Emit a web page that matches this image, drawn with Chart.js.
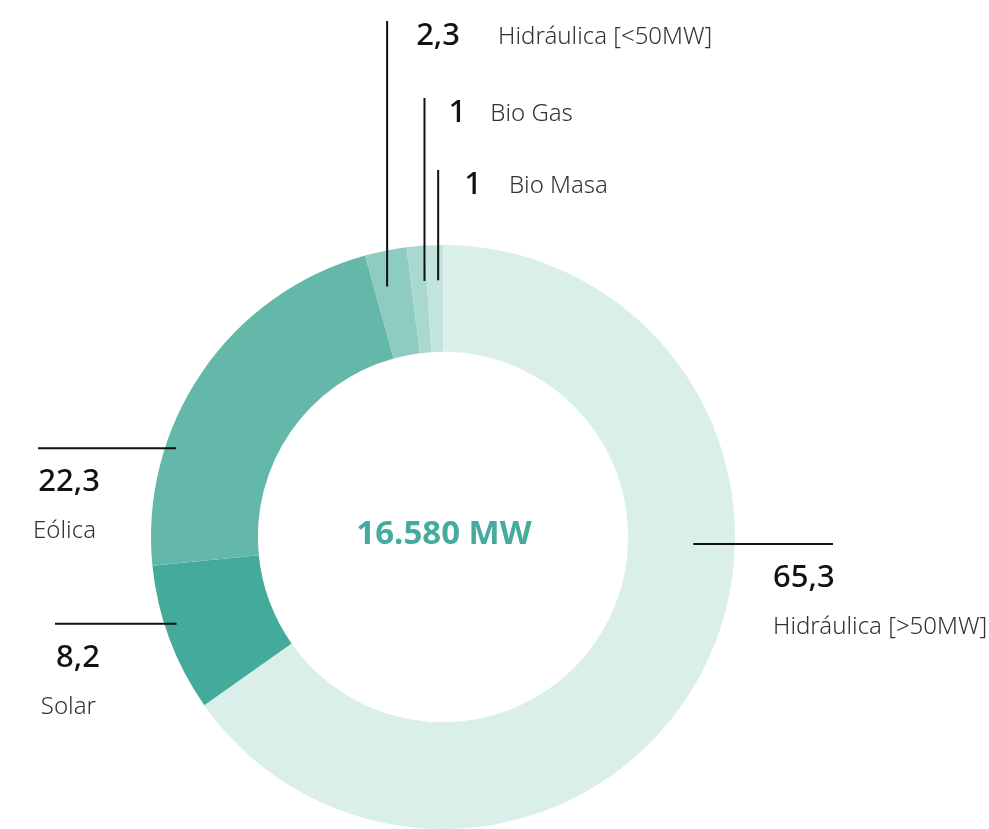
<!DOCTYPE html>
<html lang="es">
<head>
<meta charset="utf-8">
<script src="https://cdn.jsdelivr.net/npm/chart.js@4"></script>
<style>
  html, body { margin: 0; padding: 0; background: #fff; overflow: hidden; }
  #wrap { width: 989px; height: 829px; position: relative; }
</style>
</head>
<body>
<div id="wrap"><canvas id="grafico"></canvas></div>
<script>
// datos (%) - orden en sentido horario desde arriba
const categorias = ['Hidráulica [>50MW]', 'Solar', 'Eólica', 'Hidráulica [<50MW]', 'Bio Gas', 'Bio Masa'];
const valores = [65.3, 8.2, 22.3, 2.3, 1, 1];
const total = '16.580 MW';

const colores = ['#dbefea', '#44ab9c', '#63b8aa', '#8ecbc1', '#a9d8cf', '#c3e4dd'];

// donde va cada etiqueta: lado, fraccion del arco, fraccion del radio, fin de la linea
const etiquetas = [
    { lado: 'right', f: 0.39, rf: 0.61, fin: 833, textoX: 773 },
    { lado: 'left', f: 0.58, rf: 0.89, fin: 55, textoX: 100 },
    { lado: 'left', f: 0.30, rf: 0.90, fin: 38, textoX: 100 },
    { lado: 'top', f: 0.35, rf: 0.67, fin: 21, dx: 29, sep: 38 },
    { lado: 'top', f: 0.85, rf: 0.67, fin: 98, dx: 24, sep: 24 },
    { lado: 'top', f: 0.70, rf: 0.67, fin: 170, dx: 26, sep: 27 }
];

const fuente = '"Noto Sans", "Open Sans", sans-serif';

function formato(v) {
    return String(v).replace('.', ',');
}

const etiquetasPlugin = {
    id: 'etiquetas',
    afterDatasetsDraw(chart) {
        const ctx = chart.ctx;
        const meta = chart.getDatasetMeta(0);
        ctx.save();
        meta.data.forEach((arc, i) => {
            const cfg = etiquetas[i];
            const ang = arc.startAngle + cfg.f * (arc.endAngle - arc.startAngle);
            const r = arc.innerRadius + cfg.rf * (arc.outerRadius - arc.innerRadius);
            const ax = arc.x + r * Math.cos(ang);
            const ay = arc.y + r * Math.sin(ang);

            ctx.strokeStyle = '#111';
            ctx.lineWidth = 2;
            ctx.beginPath();
            ctx.moveTo(ax, ay);
            if (cfg.lado === 'top') ctx.lineTo(ax, cfg.fin);
            else ctx.lineTo(cfg.fin, ay);
            ctx.stroke();

            const valor = formato(valores[i]);
            ctx.textBaseline = 'alphabetic';
            if (cfg.lado === 'top') {
                const base = cfg.fin + 24;
                ctx.textAlign = 'left';
                ctx.fillStyle = '#111';
                ctx.font = '500 31px ' + fuente;
                const vx = ax + cfg.dx;
                ctx.fillText(valor, vx, base);
                const w = ctx.measureText(valor).width;
                ctx.fillStyle = '#333';
                ctx.font = '300 24px ' + fuente;
                ctx.fillText(categorias[i], vx + w + cfg.sep, base - 1);
            } else {
                ctx.textAlign = cfg.lado === 'left' ? 'right' : 'left';
                ctx.fillStyle = '#111';
                ctx.font = '500 31px ' + fuente;
                ctx.fillText(valor, cfg.textoX, ay + 43);
                ctx.fillStyle = '#333';
                ctx.font = '300 24px ' + fuente;
                ctx.fillText(categorias[i], cfg.textoX - (cfg.lado === 'left' ? 4 : 0), ay + 90);
            }
        });

        // texto central
        const a0 = meta.data[0];
        ctx.textAlign = 'center';
        ctx.textBaseline = 'middle';
        ctx.fillStyle = '#45ab9c';
        ctx.font = 'bold 33px ' + fuente;
        ctx.fillText(total, a0.x + 1, a0.y - 2);
        ctx.restore();
    }
};

new Chart(document.getElementById('grafico'), {
    type: 'doughnut',
    data: {
        labels: categorias,
        datasets: [{
            data: valores,
            backgroundColor: colores,
            borderWidth: 0,
            hoverOffset: 0
        }]
    },
    options: {
        responsive: true,
        maintainAspectRatio: false,
        animation: false,
        cutout: '63.4%',
        layout: {
            padding: { left: 151, right: 254, top: 245, bottom: 0 }
        },
        plugins: {
            legend: { display: false },
            tooltip: { enabled: false }
        }
    },
    plugins: [etiquetasPlugin]
});
</script>
</body>
</html>
